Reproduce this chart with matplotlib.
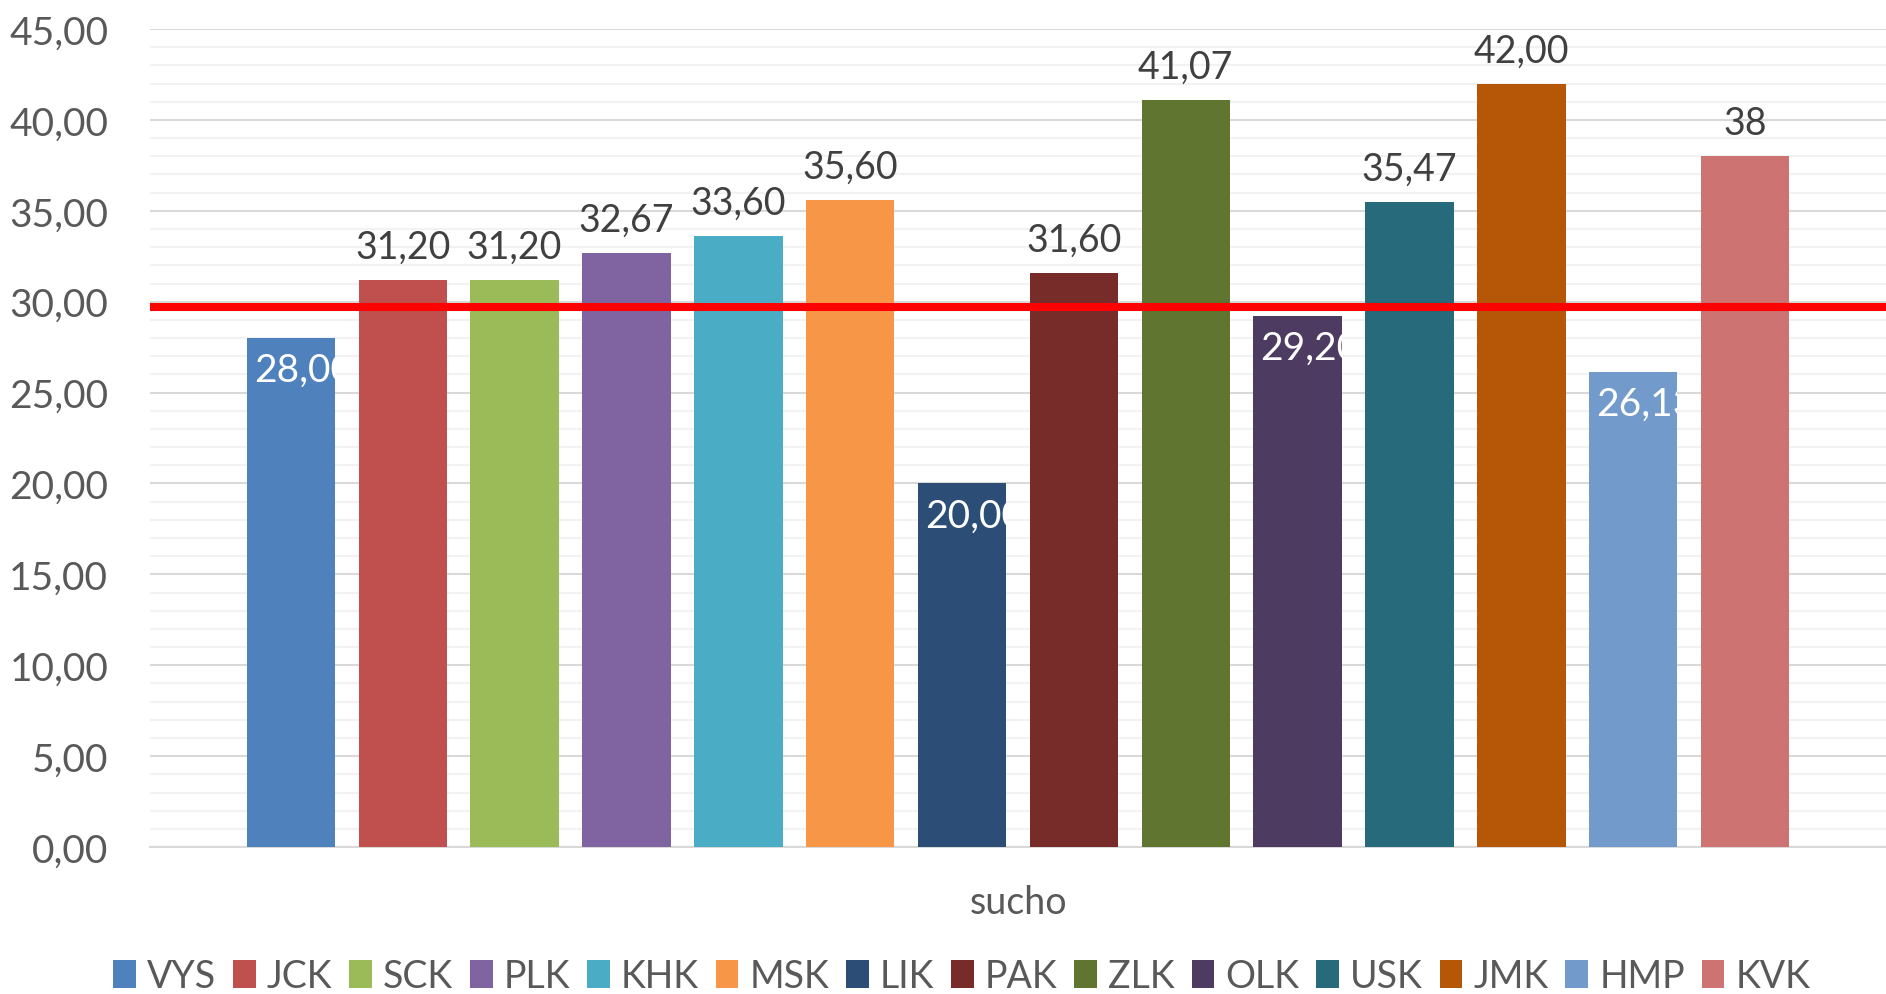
import numpy as np
import matplotlib
matplotlib.use("Agg")
import matplotlib.pyplot as plt
from matplotlib.patches import Patch
from matplotlib.ticker import MultipleLocator, FuncFormatter

regions = ["VYS", "JCK", "SCK", "PLK", "KHK", "MSK", "LIK",
           "PAK", "ZLK", "OLK", "USK", "JMK", "HMP", "KVK"]
values = [28.00, 31.20, 31.20, 32.67, 33.60, 35.60, 20.00,
          31.60, 41.07, 29.20, 35.47, 42.00, 26.13, 38.00]
labels = ["28,00", "31,20", "31,20", "32,67", "33,60", "35,60", "20,00",
          "31,60", "41,07", "29,20", "35,47", "42,00", "26,13", "38"]
colors = ["#4F81BD", "#C0504D", "#9BBB59", "#8064A2", "#4BACC6", "#F79646",
          "#2C4D75", "#772C2A", "#5F7530", "#4D3B62", "#276A7C", "#B65708",
          "#729ACA", "#CD7371"]
category = "sucho"
average = 29.7


def main():
    plt.rcParams['font.family'] = ['Lato', 'DejaVu Sans']
    fig = plt.figure(figsize=(18.86, 9.95), dpi=100)
    ax = fig.add_axes([0.0795, 0.1477, 0.9205, 0.8221])

    x = np.arange(len(values))
    width = 0.79
    bars = ax.bar(x, values, width=width, color=colors, zorder=3)

    ax.set_xlim(-1.26, 14.26)
    ax.set_ylim(0, 45)
    ax.yaxis.set_major_locator(MultipleLocator(5))
    ax.yaxis.set_minor_locator(MultipleLocator(1))
    ax.yaxis.set_major_formatter(FuncFormatter(lambda v, p: f"{v:.2f}".replace(".", ",")))
    ax.grid(which='major', axis='y', color='#D9D9D9', lw=1.5, zorder=0)
    ax.grid(which='minor', axis='y', color='#F2F2F2', lw=1.5, zorder=0)
    ax.tick_params(axis='y', which='both', length=0, labelsize=28, labelcolor='#595959', pad=30)
    ax.set_xticks([])
    for s in ['left', 'right', 'top']:
        ax.spines[s].set_visible(False)
    ax.spines['bottom'].set_color('#D9D9D9')
    ax.spines['bottom'].set_linewidth(1.5)

    ax.axhline(average, color='#FF0000', lw=5.8, zorder=5)

    for b, v, lab in zip(bars, values, labels):
        if v < average:
            t = ax.annotate(lab, (b.get_x(), v), xytext=(5, -23), textcoords='offset points',
                            ha='left', va='center', fontsize=28, color='white', zorder=6)
            t.set_clip_path(b)
        else:
            ax.annotate(lab, (b.get_x() + b.get_width() / 2, v), xytext=(0, 24),
                        textcoords='offset points', ha='center', va='center',
                        fontsize=27, color='#404040', zorder=6)

    fig.text(0.540, 0.092, category, ha='center', va='center', fontsize=27, color='#595959')

    handles = [Patch(facecolor=c, label=r) for c, r in zip(colors, regions)]
    fig.legend(handles=handles, loc='center', bbox_to_anchor=(0.510, 0.018), ncol=14,
               frameon=False, fontsize=27, labelcolor='#595959', handlelength=0.6,
               handleheight=0.75, handletextpad=0.3, columnspacing=0.45)

    fig.savefig("out.png", dpi=100)


if __name__ == '__main__':
    main()
